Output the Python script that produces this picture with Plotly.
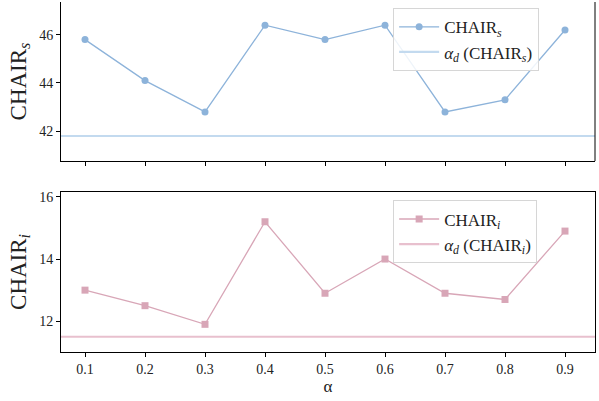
import plotly.graph_objects as go
from plotly.subplots import make_subplots

alpha = [0.1, 0.2, 0.3, 0.4, 0.5, 0.6, 0.7, 0.8, 0.9]
chair_s = [45.8, 44.1, 42.8, 46.4, 45.8, 46.4, 42.8, 43.3, 46.2]
chair_i = [13.0, 12.5, 11.9, 15.2, 12.9, 14.0, 12.9, 12.7, 14.9]
alpha_d_s = 41.8
alpha_d_i = 11.5
x_range = [0.06, 0.95]
tick_vals = [0.1, 0.2, 0.3, 0.4, 0.5, 0.6, 0.7, 0.8, 0.9]
tick_text = ["0.1", "0.2", "0.3", "0.4", "0.5", "0.6", "0.7", "0.8", "0.9"]

blue = "#8db3da"
blue_l = "#c3daef"
pink = "#d8a6b7"
pink_l = "#e8c0ce"
FONT = "Liberation Serif, Times New Roman, serif"

fig = make_subplots(rows=2, cols=1, shared_xaxes=False)

fig.add_trace(go.Scatter(x=alpha, y=chair_s, mode="lines+markers",
                         line=dict(color=blue, width=1.3),
                         marker=dict(color=blue, size=7, symbol="circle"),
                         name="CHAIR<sub><i>s</i></sub>", legend="legend"), row=1, col=1)
fig.add_trace(go.Scatter(x=x_range, y=[alpha_d_s, alpha_d_s], mode="lines",
                         line=dict(color=blue_l, width=2.2),
                         name="<i>α<sub>d</sub></i> (CHAIR<sub><i>s</i></sub>)", legend="legend"), row=1, col=1)
fig.add_trace(go.Scatter(x=alpha, y=chair_i, mode="lines+markers",
                         line=dict(color=pink, width=1.3),
                         marker=dict(color=pink, size=7, symbol="square"),
                         name="CHAIR<sub><i>i</i></sub>", legend="legend2"), row=2, col=1)
fig.add_trace(go.Scatter(x=x_range, y=[alpha_d_i, alpha_d_i], mode="lines",
                         line=dict(color=pink_l, width=2.2),
                         name="<i>α<sub>d</sub></i> (CHAIR<sub><i>i</i></sub>)", legend="legend2"), row=2, col=1)

axis_common = dict(showgrid=False, zeroline=False, ticks="outside", ticklen=4,
                   tickcolor="black", linecolor="black", linewidth=1,
                   tickfont=dict(family=FONT, size=14, color="#222"))

fig.update_xaxes(**axis_common, range=x_range, tickvals=tick_vals, ticktext=tick_text,
                 showline=True)
fig.update_xaxes(row=1, col=1, showticklabels=False, domain=[0, 1], mirror=False)
fig.update_xaxes(row=2, col=1, mirror=True,
                 title=dict(text="α", font=dict(family=FONT, size=17, color="#222"), standoff=1))

fig.update_yaxes(**axis_common, showline=True)
fig.update_yaxes(row=1, col=1, range=[40.76, 47.36], tickvals=[42, 44, 46],
                 domain=[0.5455, 1.0], mirror=False,
                 title=dict(text="CHAIR<sub><i>s</i></sub>", font=dict(family=FONT, size=23, color="#222"), standoff=6))
fig.update_yaxes(row=2, col=1, range=[11.01, 16.16], tickvals=[12, 14, 16],
                 domain=[0.0, 0.4574], mirror=True,
                 title=dict(text="CHAIR<sub><i>i</i></sub>", font=dict(family=FONT, size=23, color="#222"), standoff=6))

# right spine of the top panel (top spine falls outside the picture)
fig.add_shape(type="line", xref="paper", yref="paper", x0=1, x1=1, y0=0.5455, y1=1.0,
              line=dict(color="black", width=1))

legend_style = dict(bgcolor="rgba(255,255,255,0.85)", bordercolor="#d6d6d6", borderwidth=1,
                    font=dict(family=FONT, size=17, color="#222"), xanchor="left", yanchor="top",
                    tracegroupgap=0, itemwidth=40)
fig.update_layout(
    width=599, height=401,
    margin=dict(l=61, r=4, t=0, b=49),
    plot_bgcolor="white", paper_bgcolor="white",
    font=dict(family=FONT, color="#222"),
    legend=dict(**legend_style, x=0.622, y=0.982),
    legend2=dict(**legend_style, x=0.622, y=0.433),
)

fig.write_html("out.html")
